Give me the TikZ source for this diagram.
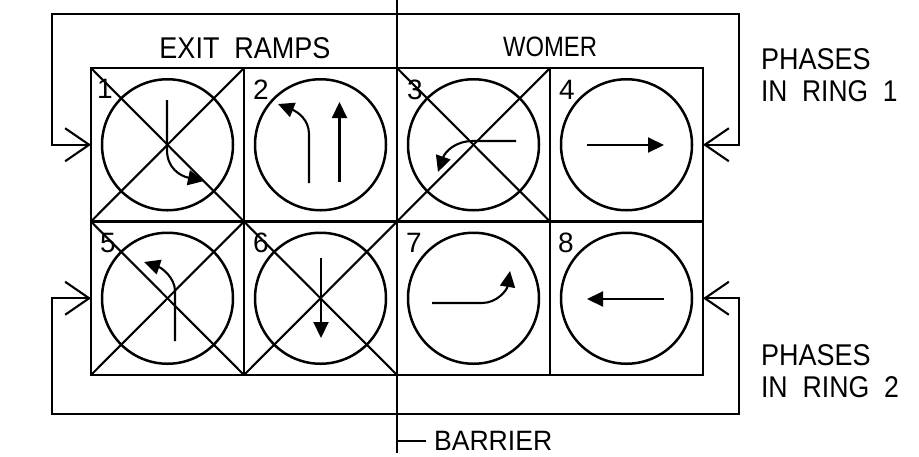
\documentclass[tikz,border=0pt]{standalone}
\usepackage{fontspec}
\setmainfont{Liberation Sans}[WordSpace=2]
\usepackage{graphicx}
\usepackage{tikz}
\usetikzlibrary{arrows.meta,positioning,calc}
\newcommand{\capsize}[1]{\fontsize{#1}{#1}\selectfont}
\newcommand{\caps}[2][.9]{\scalebox{#1}[1]{#2}}

\begin{document}
\begin{tikzpicture}[x=1pt, y=-1pt, line width=2.1pt,
    phasecell/.style={draw, minimum width=153pt, minimum height=153.5pt, inner sep=0pt, outer sep=0pt},
    ring/.style={draw, circle, line width=2.5pt, minimum size=131pt, inner sep=0pt, outer sep=0pt},
    numlab/.style={font=\capsize{28}, inner sep=0pt},
    caplab/.style={font=\capsize{30}, inner sep=0pt, anchor=west},
    turn/.style={-{Triangle[length=16pt,width=15pt]}},
    feed/.style={-{Straight Barb[length=24pt,width=33pt]}}]
  \useasboundingbox (0,0) rectangle (919,456);
  % grid of phases
  \node (cell1) [phasecell] at (167.5,144.75) {};
  \node (cell2) [phasecell, right=0pt of cell1] {};
  \node (cell3) [phasecell, right=0pt of cell2] {};
  \node (cell4) [phasecell, right=0pt of cell3] {};
  \node (cell5) [phasecell, below=0pt of cell1] {};
  \node (cell6) [phasecell, right=0pt of cell5] {};
  \node (cell7) [phasecell, right=0pt of cell6] {};
  \node (cell8) [phasecell, right=0pt of cell7] {};
  \node (ring1) [ring] at (cell1) {};
  \node (ring2) [ring] at (cell2) {};
  \node (ring3) [ring] at (cell3) {};
  \node (ring4) [ring] at (cell4) {};
  \node (ring5) [ring] at (cell5) {};
  \node (ring6) [ring] at (cell6) {};
  \node (ring7) [ring] at (cell7) {};
  \node (ring8) [ring] at (cell8) {};
  % crossed out phases
  \draw (cell1.north west) -- (cell1.south east);
  \draw (cell1.south west) -- (cell1.north east);
  \draw (cell3.north west) -- (cell3.south east);
  \draw (cell3.south west) -- (cell3.north east);
  \draw (cell5.north west) -- (cell5.south east);
  \draw (cell5.south west) -- (cell5.north east);
  \draw (cell6.north west) -- (cell6.south east);
  \draw (cell6.south west) -- (cell6.north east);
  \node (num1) [numlab] at (105,89) {1};
  \node (num2) [numlab] at (261,90) {2};
  \node (num3) [numlab] at (415,90) {3};
  \node (num4) [numlab] at (567,90) {4};
  \node (num5) [numlab] at (108,243) {5};
  \node (num6) [numlab] at (261,243) {6};
  \node (num7) [numlab] at (414,243) {7};
  \node (num8) [numlab] at (566,243) {8};
  % movements
  \draw[turn] (167,100) -- (167,150) .. controls (167,168) and (180,176) .. (204,181);
  \draw[turn] (309,183) -- (309,134) .. controls (309,120) and (298,112) .. (278,104);
  \draw[turn] (339.5,182) -- (339.5,102);
  \draw[turn] (516,141) -- (473,141) .. controls (455,141) and (445,152) .. (438,172);
  \draw[turn] (587,145) -- (664,145);
  \draw[turn] (175,341) -- (175,291) .. controls (175,278) and (162,268) .. (144,262);
  \draw[turn] (321,258) -- (321,338);
  \draw[turn] (432,303) -- (482,303) .. controls (497,303) and (507,290) .. (510,271);
  \draw[turn] (664,299) -- (587,299);
  % rings and barrier
  \coordinate (ringtopl) at (52,14);
  \coordinate (ringtopr) at (739,14);
  \coordinate (ringbotl) at (52,414);
  \coordinate (ringbotr) at (739,414);
  \draw[feed] (ringtopr) -- (ringtopl) -- (ringtopl |- cell1.west) -- (cell1.west);
  \draw[feed] (ringtopl) -- (ringtopr) -- (ringtopr |- cell4.east) -- (cell4.east);
  \draw[feed] (ringbotr) -- (ringbotl) -- (ringbotl |- cell5.west) -- (cell5.west);
  \draw[feed] (ringbotl) -- (ringbotr) -- (ringbotr |- cell8.east) -- (cell8.east);
  \coordinate (bartop) at (397,0);
  \coordinate (barbot) at (397,453);
  \draw[line width=1.6pt] (bartop) -- (barbot);
  \node (exitlab) [font=\capsize{30}, inner sep=0pt] at (245,48) {\caps{EXIT RAMPS}};
  \node (womerlab) [font=\capsize{28}, inner sep=0pt] at (550,47) {\caps[.85]{WOMER}};
  \node (ring1lab) [caplab] at (760,59) {\caps{PHASES}};
  \node (ring1labb) [caplab] at (760,91) {\caps[.88]{IN RING 1}};
  \node (ring2lab) [caplab] at (760,355) {\caps{PHASES}};
  \node (ring2labb) [caplab] at (760,387) {\caps[.89]{IN RING 2}};
  \node (barlab) [caplab, font=\capsize{28}] at (433,441) {\caps[.95]{BARRIER}};
  \coordinate (barjoin) at (397,441);
  \draw[line width=1.6pt] (barjoin) -- ($(barjoin -| barlab.west)+(-7,0)$);
\end{tikzpicture}
\end{document}
